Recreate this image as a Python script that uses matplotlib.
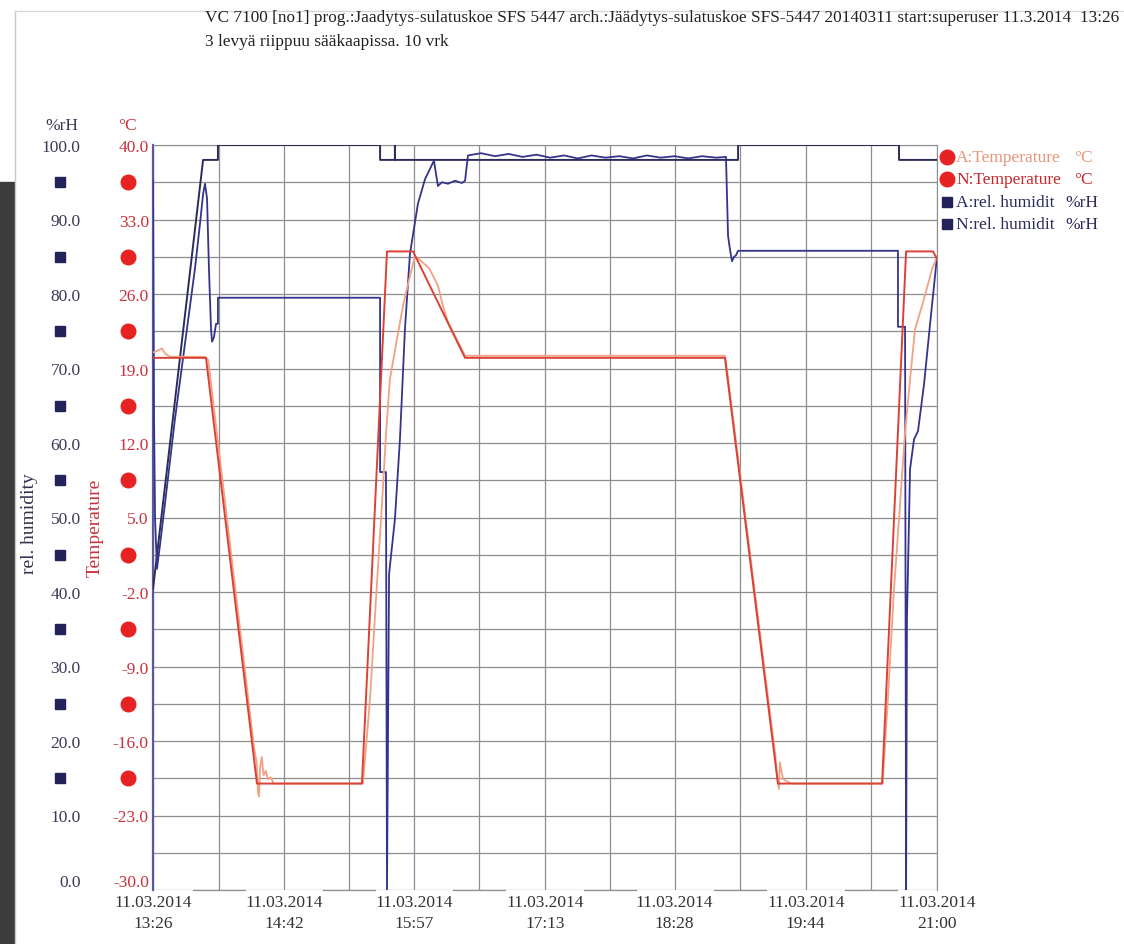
import numpy as np
import matplotlib
matplotlib.use("Agg")
import matplotlib.pyplot as plt
from matplotlib import transforms
from matplotlib.patches import Rectangle
from matplotlib.lines import Line2D

plt.rcParams['font.family'] = ['Liberation Serif', 'DejaVu Serif']

# time axis: minutes after 11.03.2014 13:26
tick_times = ["13:26", "14:42", "15:57", "17:13", "18:28", "19:44", "21:00"]
tick_date = "11.03.2014"

# N: rel. humidity (setpoint) %rH
n_rh_t = [0, 29.0, 37.6, 37.6, 131.5, 131.5, 140.1, 140.1, 140.1, 338.8, 338.8, 432.0, 432.0, 454]
n_rh_v = [40.4, 98.0, 98.0, 100, 100, 98.0, 98.0, 100, 98.0, 98.0, 100, 100, 98.0, 98.0]

# A: rel. humidity (measured) %rH
a_rh_t = [0, 0.6, 1.2, 2.3, 4.1, 6.9, 12.7, 18.5, 24.3, 27.2, 29.0, 30.1, 31.3, 32.4, 33.6,
          34.2, 35.3, 36.5, 37.6, 37.6, 131.5, 131.5, 134.9, 135.5, 136.7, 140.1, 143.0,
          145.9, 148.8, 153.4, 157.5, 162.7, 163.9, 165.0, 167.3, 170.8, 174.9, 178.9,
          180.7, 182.4, 190, 198, 206, 214, 222, 230, 238, 246, 254, 262, 270, 278, 286,
          294, 302, 310, 318, 326, 331.8, 333.0, 334.1, 335.3, 336.5, 337.6, 338.8, 431.4,
          431.4, 435.5, 436.1, 436.6, 438.4, 440.7, 443.0, 446.5, 450.0, 454]
a_rh_v = [95.4, 63.2, 49.8, 43.1, 46.4, 51.8, 63.2, 73.3, 83.4, 89.4, 93.4, 94.8, 92.8, 83.4,
          75.3, 73.6, 74.2, 76.0, 76.0, 79.5, 79.5, 56.1, 56.1, 0.0, 42.4, 49.8, 60.5, 75.3,
          85.4, 92.1, 95.4, 97.9, 96.1, 94.5, 95.0, 94.8, 95.2, 94.9, 95.2, 98.6, 98.9, 98.5,
          98.8, 98.4, 98.7, 98.3, 98.6, 98.2, 98.6, 98.3, 98.5, 98.2, 98.6, 98.3, 98.5, 98.2,
          98.5, 98.3, 98.4, 87.8, 86.0, 84.4, 85.0, 85.2, 85.8, 85.8, 75.6, 75.6, 0.0, 36.4,
          56.5, 60.5, 61.6, 67.9, 76.0, 85.0]

# N: Temperature (setpoint) °C
n_t_t = [0, 30.7, 60.2, 121.0, 135.5, 150.6, 180.7, 331.2, 361.9, 422.2, 436.1, 451.7, 454]
n_t_v = [20, 20, -20, -20, 30, 30, 20, 20, -20, -20, 30, 30, 29.3]

# A: Temperature (measured) °C
a_t_t = [0, 3, 5.2, 7, 10, 30, 32, 58.5, 60, 60.8, 61.4, 62, 63, 64, 65.4, 66.5, 68, 70,
         121.6, 125.7, 129, 132.5, 135, 137.2, 141.3, 144.8, 148.8, 151.7, 154.6, 160, 165,
         168, 171, 180.7, 331.2, 332.5, 360.5, 361.5, 362.5, 363, 364, 365, 367, 370, 422.5,
         425.6, 429, 432.5, 435.5, 438.4, 441.3, 445.9, 451.1, 454]
a_t_v = [20.5, 20.7, 20.9, 20.4, 20.1, 20.1, 19.8, -16.6, -18, -20.8, -21.2, -18.5, -17.5,
         -19.2, -18.8, -19.6, -19.4, -20, -20, -12, -3, 6, 13, 18, 21.8, 24.9, 27.7, 29.5,
         29.2, 28.4, 26.8, 24.8, 23.3, 20.2, 20.2, 18.8, -17.5, -19.5, -20.5, -18, -18.9,
         -19.6, -19.8, -20, -20, -12, -2, 6, 13, 18, 22.7, 25.2, 28.3, 29.5]

W, H = 1124, 945
fig = plt.figure(figsize=(W / 100, H / 100), dpi=100)
fig.patch.set_facecolor('white')

# scan artefacts: dark strip and page edge
fig.add_artist(Rectangle((0, 0), 14 / W, (H - 183) / H, transform=fig.transFigure,
                         color='#3c3c3c', zorder=0))
fig.add_artist(Line2D([15 / W, 15 / W], [0, 1 - 12 / H], transform=fig.transFigure,
                      color='#c8c8c8', lw=1))
fig.add_artist(Line2D([15 / W, 1], [1 - 12 / H, 1 - 12 / H], transform=fig.transFigure,
                      color='#d8d8d8', lw=1))

left, right, top, bottom = 153, 937, 146, 891
ax = fig.add_axes([left / W, 1 - bottom / H, (right - left) / W, (bottom - top) / H])

def hm(s):
    h, m = s.split(":")
    return (int(h) * 60 + int(m)) - (13 * 60 + 26)

xt = [hm(s) for s in tick_times]
ax.set_xlim(0, 454)
ax.set_ylim(0, 100)
ax.set_xticks(xt, labels=[f"{tick_date}\n{s}" for s in tick_times])
ax.set_xticks([(a + b) / 2 for a, b in zip(xt[:-1], xt[1:])], minor=True)
ax.set_yticks(np.arange(0, 101, 10), labels=[f"{v:.1f}" for v in np.arange(0, 101, 10)])
ax.set_yticks(np.arange(5, 100, 10), minor=True)
ax.grid(True, which='both', color='#8e8e8e', lw=0.9)
ax.set_axisbelow(True)
ax.tick_params(which='both', length=0)
ax.tick_params(axis='y', pad=52, labelsize=12.5, labelcolor='#3a3a58')
ax.tick_params(axis='x', pad=3, labelsize=12.5, labelcolor='#333333')
for lab in ax.get_xticklabels():
    lab.set_linespacing(1.4)
ax.get_yticklabels()[0].set_va('bottom')
for s in ['top', 'right']:
    ax.spines[s].set_color('#8e8e8e')
ax.spines['left'].set_color('#5a5a98')
ax.spines['left'].set_linewidth(1.6)
ax.spines['bottom'].set_visible(False)
# bottom axis drawn as short pieces between the date labels
for a, b in zip(xt[:-1], xt[1:]):
    mid = (a + b) / 2
    ax.plot([mid - 15, mid + 15], [0, 0], color='#8e8e8e', lw=0.9, clip_on=False)

ax.plot(n_rh_t, n_rh_v, color='#2c2c58', lw=1.4, zorder=3)
ax.plot(a_rh_t, a_rh_v, color='#34348c', lw=1.3, zorder=3)

ax2 = ax.twinx()
ax2.set_ylim(-30, 40)
tv = np.arange(-30, 41, 7)
ax2.set_yticks(tv, labels=[f"{v:.1f}" for v in tv])
ax2.yaxis.set_ticks_position('left')
ax2.tick_params(length=0, pad=3, labelsize=12.5, labelcolor='#c8323c')
ax2.get_yticklabels()[0].set_va('bottom')
for s in ['top', 'right', 'left', 'bottom']:
    ax2.spines[s].set_visible(False)
ax2.plot(a_t_t, a_t_v, color='#f2a184', lw=1.3, zorder=3)
ax2.plot(n_t_t, n_t_v, color='#da4236', lw=1.4, zorder=4)

# marker column between the scale labels
mk = np.arange(15, 100, 10)
bt = transforms.blended_transform_factory(ax.transAxes, ax.transData)
ax.plot([(60 - left) / (right - left)] * len(mk), mk, 's', color='#23235a', ms=7.5,
        transform=bt, clip_on=False, ls='none')
ax.plot([(128 - left) / (right - left)] * len(mk), mk, 'o', color='#e62222', ms=10.5,
        transform=bt, clip_on=False, ls='none')

# units and axis titles
fig.text(62 / W, 1 - 126 / H, "%rH", ha='center', va='center', fontsize=12.5, color='#3a3a58')
fig.text(127 / W, 1 - 126 / H, "°C", ha='center', va='center', fontsize=12.5, color='#c8323c')
fig.text(29 / W, 1 - 524 / H, "rel. humidity", rotation=90, ha='center', va='center',
         fontsize=14, color='#33334f')
fig.text(95 / W, 1 - 528 / H, "Temperature", rotation=90, ha='center', va='center',
         fontsize=14, color='#c8323c')

# title
fig.text(205 / W, 1 - 18 / H,
         "VC 7100 [no1] prog.:Jaadytys-sulatuskoe SFS 5447 arch.:Jäädytys-sulatuskoe SFS-5447 20140311 start:superuser 11.3.2014  13:26",
         ha='left', va='center', fontsize=12.45, color='#222222')
fig.text(205 / W, 1 - 42 / H, "3 levyä riippuu sääkaapissa. 10 vrk",
         ha='left', va='center', fontsize=12.45, color='#222222')

# legend
leg = [("A:Temperature", "°C", 'o', '#e62222', '#e8957c'),
       ("N:Temperature", "°C", 'o', '#e62222', '#c8282c'),
       ("A:rel. humidit", "%rH", 's', '#23235a', '#2a2a5c'),
       ("N:rel. humidit", "%rH", 's', '#23235a', '#2a2a5c')]
for i, (name, unit, m, mc, tc) in enumerate(leg):
    y = 1 - (158 + i * 22.3) / H
    fig.add_artist(Line2D([947 / W], [y], marker=m, color=mc, ms=10.5 if m == 'o' else 7.5,
                          transform=fig.transFigure, ls='none'))
    fig.text(956 / W, y, name, ha='left', va='center', fontsize=12.5, color=tc)
    fig.text(1098 / W if unit == "%rH" else 1093 / W, y, unit, ha='right', va='center',
             fontsize=12.5, color=tc)

fig.savefig("out.png", dpi=100)
